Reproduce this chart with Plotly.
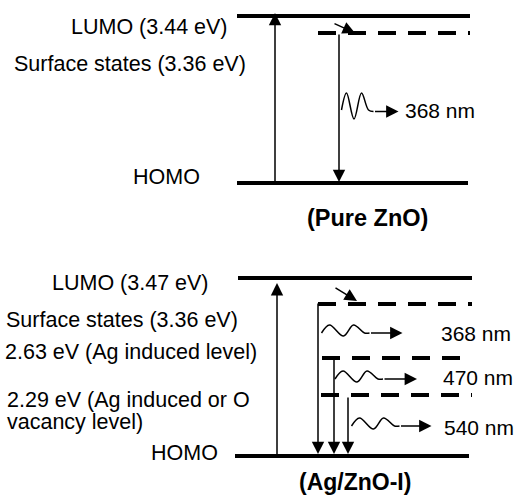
import plotly.graph_objects as go

# ---------------- data (schematic energy-level diagram) ----------------
panel_titles = ["(Pure ZnO)", "(Ag/ZnO-I)"]

# Pure ZnO
pure_level_names = ["LUMO (3.44 eV)", "Surface states (3.36 eV)", "HOMO"]
pure_level_y = [16, 33, 183]          # schematic vertical position of levels
pure_emission_nm = ["368 nm"]

# Ag/ZnO-I
ag_level_names = ["LUMO (3.47 eV)", "Surface states (3.36 eV)",
                  "2.63 eV (Ag induced level)", "2.29 eV (Ag induced or O", "vacancy level)", "HOMO"]
ag_level_y = [278, 304, 358, 395, 456]  # LUMO, SS, 2.63, 2.29, HOMO
ag_emission_nm = ["368 nm", "470 nm", "540 nm"]

FONT = "Liberation Sans, Arial, Helvetica, sans-serif"
FS = 21.5
FS_NM = 21
BLACK = "#000000"

fig = go.Figure()
shapes = []
ann = []


def hline(x0, x1, y, dashed=False):
    shapes.append(dict(type="line", xref="x", yref="y", x0=x0, x1=x1, y0=y, y1=y,
                       line=dict(color=BLACK, width=4, dash="18px,12px" if dashed else "solid")))


def arrow(x_tail, y_tail, x_tip, y_tip):
    ann.append(dict(x=x_tip, y=y_tip, ax=x_tail, ay=y_tail, xref="x", yref="y",
                    axref="x", ayref="y", text="", showarrow=True, arrowhead=2,
                    arrowsize=1.65, arrowwidth=1.5, arrowcolor=BLACK, standoff=0))


def text(x, y, s, anchor="left", bold=False, size=FS):
    ann.append(dict(x=x, y=y, xref="x", yref="y", text=f"<b>{s}</b>" if bold else s,
                    showarrow=False, xanchor=anchor, yanchor="middle",
                    font=dict(family=FONT, size=size, color=BLACK)))


def wave(x0, y0, template, tip_dx):
    xs = [x0 + dx for dx, dy in template]
    ys = [y0 + dy for dx, dy in template]
    fig.add_trace(go.Scatter(x=xs, y=ys, mode="lines", line=dict(color=BLACK, width=1.5, shape="spline", smoothing=1.0),
                             hoverinfo="skip", showlegend=False))
    arrow(xs[-1], ys[-1], x0 + tip_dx, ys[-1])


# ---------------- Pure ZnO panel ----------------
lumo, ss, homo = pure_level_y
hline(237, 470, lumo)
hline(318, 470, ss, dashed=True)
hline(237, 468, homo)
arrow(275, homo, 275, lumo - 3)          # excitation
arrow(339, ss, 339, homo - 1)            # recombination
arrow(333, lumo + 7, 355, ss)            # relaxation to surface state
top_wave = [(0, 0), (5, -17), (12.5, 9), (20, -17), (27, 0), (32, 1.5)]
wave(341.5, 110, top_wave, 57)
text(230, lumo + 11, pure_level_names[0], anchor="right")
text(12, 64, pure_level_names[1], anchor="left")
text(202, homo - 6, pure_level_names[2], anchor="right")
text(403, 110, pure_emission_nm[0], size=FS_NM)
text(367, 218, panel_titles[0], anchor="center", bold=True, size=23.5)

# ---------------- Ag/ZnO-I panel ----------------
lumo, ss, l263, l229, homo = ag_level_y
hline(238, 472, lumo)
hline(318, 472, ss, dashed=True)
hline(322, 472, l263, dashed=True)
hline(321, 472, l229, dashed=True)
hline(235, 469, homo)
arrow(277, homo, 277, lumo + 5)
arrow(318, ss - 2, 318, homo - 2)
arrow(334, l263, 334, homo - 2)
arrow(348, l229 + 1, 348, homo - 2)
arrow(334, lumo + 9, 357, ss - 3)
bot_wave = [(0, 0), (8, -8), (22, 3), (32, -8), (43, 0), (48, 0)]
wave(321.5, 333, bot_wave, 81)
wave(335, 379, bot_wave, 82)
wave(351.5, 426, bot_wave, 80)
text(211, 283, ag_level_names[0], anchor="right")
text(4, 320, ag_level_names[1])
text(3, 352, ag_level_names[2])
text(5, 400, ag_level_names[3])
text(5, 422, ag_level_names[4])
text(220, 453, ag_level_names[5], anchor="right")
text(439, 333, ag_emission_nm[0], size=FS_NM)
text(441, 377, ag_emission_nm[1], size=FS_NM)
text(442, 427, ag_emission_nm[2], size=FS_NM)
text(355, 482, panel_titles[1], anchor="center", bold=True, size=23)

fig.update_layout(
    width=515, height=495, margin=dict(l=0, r=0, t=0, b=0),
    paper_bgcolor="white", plot_bgcolor="white",
    xaxis=dict(range=[0, 515], visible=False, fixedrange=True),
    yaxis=dict(range=[495, 0], visible=False, fixedrange=True),
    shapes=shapes, annotations=ann, showlegend=False,
)
fig.write_html("out.html", config={"displayModeBar": False, "staticPlot": True},
               post_script="document.body.style.margin='0';document.body.style.overflow='hidden';")
